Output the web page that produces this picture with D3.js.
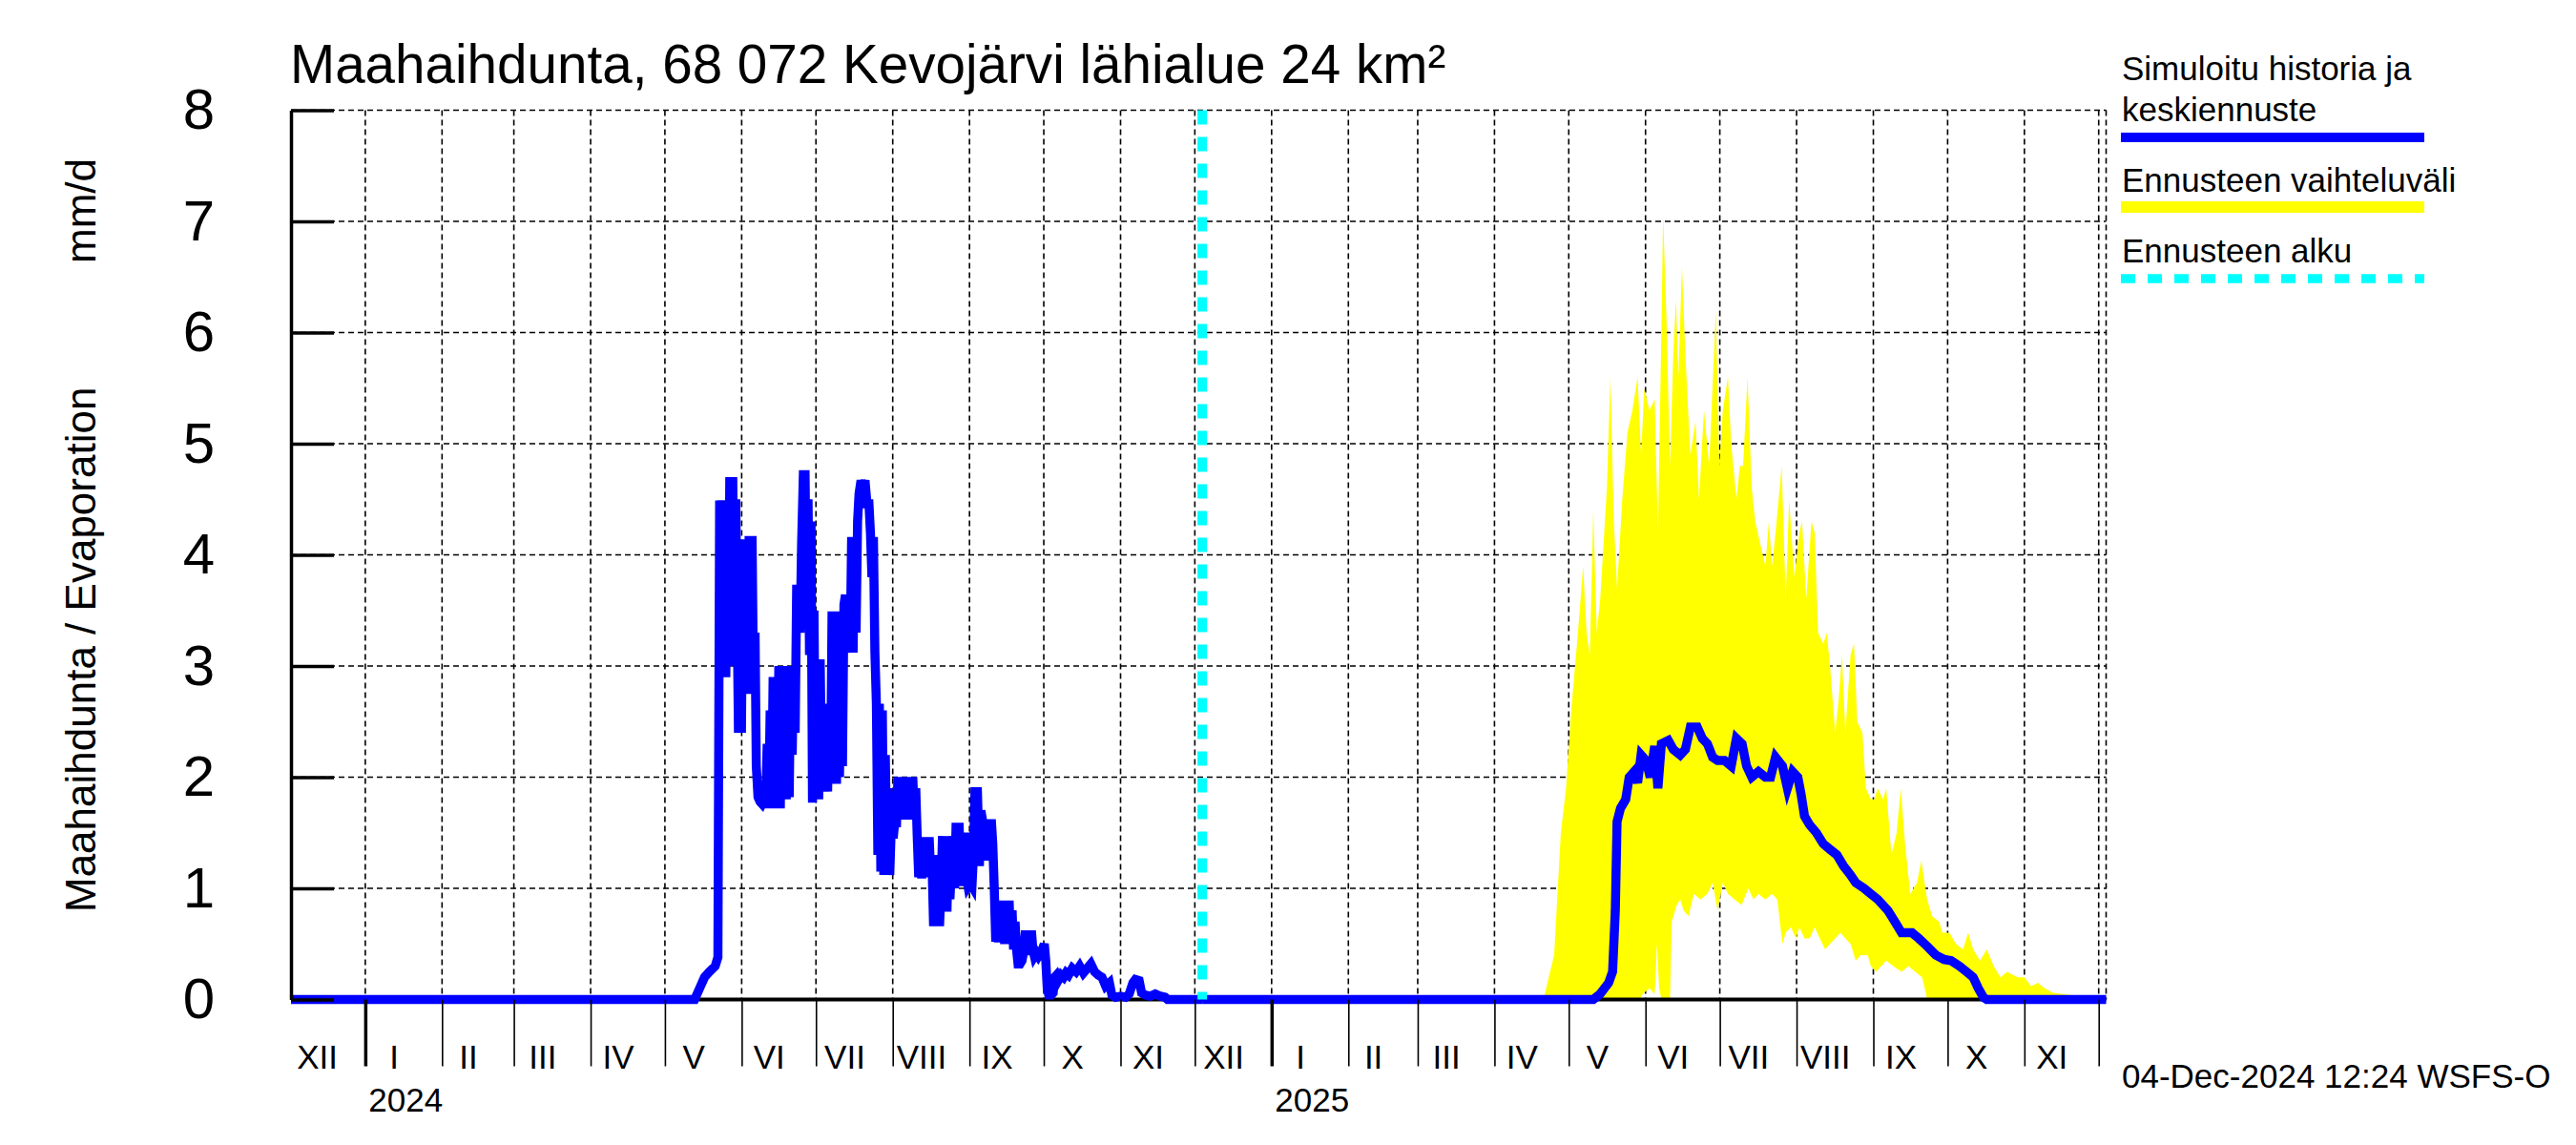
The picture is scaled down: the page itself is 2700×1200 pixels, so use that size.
<!DOCTYPE html>
<html><head><meta charset="utf-8">
<script src="https://cdn.jsdelivr.net/npm/d3@7"></script>
<style>
html,body{margin:0;padding:0;background:#fff;}
svg{display:block;}
text{font-family:"Liberation Sans",Arial,Helvetica,sans-serif;fill:#000;}
</style></head>
<body>
<svg id="chart" width="2700" height="1200"></svg>
<script>
// ---------------- DATA ----------------
const titleText = "Maahaihdunta, 68 072 Kevojärvi lähialue 24 km²";
const yLabelMain = "Maahaihdunta / Evaporation";
const yLabelUnit = "mm/d";
const yTicks = [0,1,2,3,4,5,6,7,8];
const monthLabels = ["I","II","III","IV","V","VI","VII","VIII","IX","X","XI","XII"];
const yearLabels = ["2024","2025"];
const legendLabels = ["Simuloitu historia ja","keskiennuste","Ennusteen vaihteluväli","Ennusteen alku"];
const stampText = "04-Dec-2024 12:24 WSFS-O";
const forecastStart = "2024-12-04";

// simulated history: [days since 2024-01-01, mm/d]
const simHistory2024 = [
[-30,0],[133,0],[135,0.1],[137,0.2],[139,0.25],[141.3,0.3],[142.4,0.38],
[143.1,4.49],[143.6,3.6],[144.1,4.49],[144.6,3.7],[145.1,4.07],[145.6,2.9],[146.1,4.07],[146.6,3.0],
[147.2,4.7],[147.8,3.0],[148.4,4.7],[149,3.1],[149.6,4.5],[150.2,3.4],[150.7,2.4],[151.3,4.14],[151.9,2.4],[152.5,4.14],
[153.2,2.8],[153.8,4.1],[154.3,2.75],[155,4.17],[155.6,2.8],[156.2,4.17],[156.8,2.75],[157.4,3.3],[157.9,2.1],
[158.6,1.82],[159.4,1.78],[160.2,1.76],[161,1.8],[161.7,1.76],
[162.3,2.3],[162.9,1.72],[163.5,2.6],[164.1,1.75],[164.7,2.9],[165.3,1.9],[165.8,2.9],[166.4,1.72],[167,3.0],[167.6,1.72],
[168.2,3.0],[168.8,1.85],[169.4,2.9],[170,1.8],[170.6,3.0],[171.2,1.82],[171.8,3.0],[172.4,2.2],[173,3.0],[173.6,2.4],
[174.2,3.69],[175,3.69],[175.6,3.3],[176.2,4.1],
[176.9,4.72],[177.6,4.72],[178.2,3.5],[178.8,4.5],[179.4,3.1],[180,4.3],[180.6,1.77],[181.2,3.5],[181.8,1.8],[182.5,3.06],
[183.1,1.8],[183.7,3.06],[184.3,2.0],[184.9,2.66],[185.5,1.87],[186.1,2.66],[186.7,1.87],[187.3,2.6],[187.9,2.0],
[188.5,3.49],[189.1,1.94],[189.7,3.49],[190.3,1.94],[190.9,3.49],[191.5,2.0],[192.1,3.4],[192.7,2.1],[193.3,3.55],
[193.9,3.64],[194.5,3.2],[195.2,3.64],[195.8,3.12],[196.4,4.16],[197,3.12],[197.6,4.16],[198.2,3.3],[198.8,4.3],
[199.4,4.55],[200.2,4.67],[201,4.6],[201.8,4.67],[202.6,4.46],[203.4,4.46],[204,4.2],[204.6,3.8],[205.2,4.16],[205.8,3.12],
[206.4,2.66],[207,1.3],[207.6,2.66],[208.2,1.15],[208.8,2.6],[209.4,1.12],[210,2.2],[210.6,1.3],[211.2,1.9],[211.8,1.12],
[212.5,1.62],[213.2,1.45],[213.9,1.62],[214.5,1.55],
[215.1,2.0],[215.7,1.62],[216.3,2.0],[216.9,1.62],[217.5,1.95],[218.1,1.62],[218.7,2.0],[219.3,1.7],[219.9,2.0],[220.5,1.62],
[221.1,2.0],[221.7,1.65],[222.3,1.9],[222.9,1.46],[223.5,1.1],[224.1,1.46],[224.7,1.09],[225.3,1.46],[225.9,1.1],[226.5,1.46],
[227.1,1.1],[227.7,1.46],[228.3,1.15],[228.9,1.2],[229.5,0.66],[230.1,1.1],[230.7,0.66],[231.3,1.3],[231.9,0.66],[232.5,1.0],
[233.1,1.47],[233.7,0.8],[234.3,1.47],[234.9,0.79],[235.5,1.4],[236.1,0.9],[236.7,1.2],[237.3,1.47],[238,1.0],[238.6,1.59],
[239.2,1.02],[239.8,1.59],[240.4,1.05],[241,1.4],[241.6,1.02],[242.2,1.5],[242.8,1.1],[243.4,1.02],[244.2,1.05],[245,1.02],
[245.6,1.3],[246.2,1.87],[247.2,1.87],[248,1.2],[248.6,1.7],[249.2,1.62],[249.8,1.25],[250.4,1.62],[251,1.25],[251.6,1.62],
[252.2,1.3],[252.8,1.62],[253.4,1.4],[254,1.0],[254.6,0.52],[255.2,0.6],[255.8,0.52],[256.4,0.7],[257,0.55],
[257.6,0.89],[258.2,0.5],[258.8,0.89],[259.4,0.55],[260,0.89],[260.6,0.5],[261.2,0.8],[261.8,0.45],[262.4,0.7],[263,0.45],
[263.6,0.32],[264.4,0.32],[265.2,0.35],[266,0.45],[266.6,0.62],[267.2,0.4],[267.8,0.62],[268.4,0.45],[269,0.62],[269.6,0.45],
[270.2,0.39],[271,0.42],[271.8,0.39],[272.6,0.42],[273.4,0.45],[274.2,0.5],[274.8,0.35],[275.4,0.1],[276,0.04],[277,0.04],
[277.8,0.06],[278.4,0.2],[279.2,0.22],[280,0.18],[281,0.22],[282,0.2],[283,0.24],[284,0.22],[285.5,0.28],[287,0.25],
[288.5,0.3],[290,0.24],[291.5,0.28],[293,0.32],[294.5,0.25],[296,0.22],[297.5,0.2],[299,0.12],[300.5,0.15],[301.5,0.04],
[303,0.02],[305,0.03],[307,0.02],[308.5,0.05],[310,0.15],[311,0.18],[312.5,0.17],[313.5,0.06],[315,0.04],[317,0.03],
[319,0.05],[321,0.03],[323,0.02],[324,0],[338,0]
];

// forecast median: [days since 2025-01-01, mm/d]
const forecastMedian2025 = [
[-28,0],[129.9,0],[132.7,0.05],[136.1,0.15],[137.7,0.25],[138.8,0.8],[139.5,1.6],[140.9,1.72],[143,1.8],[144.4,2.0],
[146.4,2.05],[147.8,1.95],[149.2,2.2],[151.2,2.15],[152.9,2.0],[154.7,2.28],[156,1.9],[157.4,2.3],[160.2,2.33],[162.2,2.25],
[165,2.2],[167.1,2.25],[169.1,2.45],[171.9,2.45],[173.9,2.35],[176,2.3],[178.1,2.18],[180.1,2.15],[182.9,2.15],[185.6,2.1],
[187.7,2.35],[190,2.3],[191.8,2.1],[193.9,2.0],[196.6,2.05],[199.4,2.0],[201.5,2.0],[203.5,2.18],[206.3,2.1],[208.3,1.9],
[210.4,2.05],[212.5,2.0],[213.8,1.85],[215.2,1.65],[217.3,1.57],[220,1.5],[222.8,1.4],[225.5,1.35],[228.3,1.3],[231,1.2],
[233.8,1.12],[235.9,1.05],[239.3,1.0],[242,0.95],[244.8,0.9],[248.9,0.8],[251.7,0.7],[254.4,0.6],[258.6,0.6],[261.3,0.55],
[264.7,0.48],[268.2,0.4],[271.6,0.36],[274.4,0.35],[277.8,0.3],[280.6,0.25],[283.3,0.2],[285.4,0.1],[287.4,0.02],[288.8,0],[337,0]
];

// forecast range upper edge: [days since 2025-01-01, mm/d]
const forecastUpper2025 = [
[110,0.02],[114.1,0.4],[116.8,1.5],[118.9,1.9],[121,2.6],[123.7,3.3],[125.8,3.9],[127.2,3.3],[128.5,3.1],[129.9,4.4],
[131.3,3.3],[132.7,3.6],[135.4,4.6],[136.8,5.6],[138.2,4.3],[139.5,3.7],[141.6,4.5],[143.7,5.1],[145.7,5.3],[147.8,5.6],
[149.2,4.9],[150.5,5.5],[152.6,5.3],[154.7,5.4],[156,4.2],[157.4,6.0],[158.1,7.05],[159.5,6.1],[160.9,4.8],[162.2,5.8],
[163.3,6.3],[164.3,5.6],[165.7,6.6],[167.1,5.8],[169.1,4.9],[171.2,5.2],[172.6,4.5],[174.6,5.3],[176.7,4.8],[179.4,6.2],
[180.8,4.8],[182.2,5.3],[184.3,5.6],[185.6,5.0],[187.7,4.5],[189.1,4.8],[190.4,4.8],[192.2,5.6],[193.9,4.6],[195.3,4.3],
[197.3,4.1],[199.4,3.9],[200.8,4.3],[202.1,3.9],[203.5,4.2],[206,4.8],[207.6,3.6],[209,4.5],[211.1,3.8],[213.1,4.2],
[214.2,4.3],[215.9,3.6],[218,4.3],[219.3,4.2],[220.7,3.3],[222.8,3.2],[224.2,3.3],[225.5,3.0],[227.6,2.4],[229,2.7],
[230.3,3.1],[231.7,2.4],[233.8,3.1],[235.2,3.2],[236.5,2.5],[238.6,2.4],[240,1.9],[242,1.8],[243.4,1.8],[244.8,1.9],
[246.9,1.8],[248.2,1.9],[250.3,1.3],[252.4,1.5],[254.1,1.9],[255.8,1.4],[257.9,0.95],[260.6,1.05],[262.4,1.25],[264.7,0.9],
[266.8,0.75],[269.6,0.7],[270.9,0.6],[273.7,0.6],[276.4,0.5],[279.2,0.45],[281.3,0.6],[283.3,0.45],[286.1,0.35],[288.8,0.45],
[291.6,0.3],[294.3,0.2],[297.1,0.25],[301.2,0.2],[304,0.2],[306.7,0.12],[309.5,0.15],[312.2,0.1],[315.6,0.06],[326.4,0.03],[328,0]
];

// forecast range lower edge: [days since 2025-01-01, mm/d]
const forecastLower2025 = [
[110,0],[148.5,0],[149.9,0.05],[152.6,0.1],[154.7,0.05],[155.6,0.5],[156.5,0.1],[157.4,0],[160.9,0],[161.6,0.7],
[163.6,0.85],[165,0.9],[166.4,0.8],[168.4,0.75],[170.5,0.95],[173.2,0.9],[176,0.95],[178.1,1.05],[180.1,0.8],[182.2,1.05],
[184.3,0.95],[187,0.9],[189.8,0.85],[192.5,1.0],[194.6,0.9],[196.6,0.95],[199.4,0.9],[202.1,0.95],[204.2,0.9],[206.3,0.5],
[207.6,0.6],[209.7,0.65],[211.8,0.55],[213.1,0.65],[215.2,0.55],[217.3,0.55],[219.3,0.65],[221.4,0.55],[223.5,0.45],[225.5,0.5],
[227.6,0.55],[229.7,0.6],[231.7,0.55],[233.8,0.5],[235.9,0.35],[237.9,0.4],[240.7,0.4],[242,0.3],[244.1,0.25],[246.2,0.3],
[248.2,0.35],[251,0.3],[254.4,0.25],[257.2,0.3],[259.9,0.25],[262.7,0.2],[264.3,0.05],[264.7,0],[328,0]
];

// ---------------- CHART ----------------
const svg = d3.select("#chart");
const L = 305, R = 2207.5, T = 115.5, B = 1047.5;
const x = d3.scaleUtc().domain([new Date(Date.UTC(2023,11,2)), new Date(Date.UTC(2025,11,4))]).range([L, R]);
const y = d3.scaleLinear().domain([0, 8]).range([B, T]);
const DAY = 864e5;
const d24 = d => new Date(Date.UTC(2024,0,1) + d*DAY);
const d25 = d => new Date(Date.UTC(2025,0,1) + d*DAY);

// grid
const monthStarts = d3.utcMonth.range(new Date(Date.UTC(2023,11,2)), new Date(Date.UTC(2025,11,4)));
const grid = svg.append("g").attr("stroke","#000").attr("stroke-width",1.6).attr("stroke-dasharray","6,4").attr("fill","none");
grid.selectAll("line.v").data(monthStarts.concat([x.domain()[1]])).join("line")
  .attr("x1", d => x(d)).attr("x2", d => x(d)).attr("y1", T).attr("y2", B);
grid.selectAll("line.h").data(yTicks.filter(v => v > 0)).join("line")
  .attr("x1", L).attr("x2", R).attr("y1", d => y(d)).attr("y2", d => y(d));

// forecast band
const line = d3.line().x(d => x(d[0])).y(d => y(d[1]));
const band = forecastUpper2025.map(p => [d25(p[0]), p[1]])
  .concat(forecastLower2025.slice().reverse().map(p => [d25(p[0]), p[1]]));
svg.append("path").datum(band)
  .attr("d", d => line(d) + "Z")
  .attr("fill", "#ffff00").attr("stroke", "none");

// zero baseline
svg.append("line").attr("x1", L).attr("x2", R).attr("y1", y(0)).attr("y2", y(0))
  .attr("stroke","#000").attr("stroke-width",4);

// blue lines
svg.append("path").datum(simHistory2024.map(p => [d24(p[0]), p[1]]))
  .attr("d", line).attr("fill","none").attr("stroke","#0000ff").attr("stroke-width",9.5);
svg.append("path").datum(forecastMedian2025.map(p => [d25(p[0]), p[1]]))
  .attr("d", line).attr("fill","none").attr("stroke","#0000ff").attr("stroke-width",9.5);

// forecast start
const fs = new Date(forecastStart + "T00:00:00Z");
svg.append("line").attr("x1", x(fs)).attr("x2", x(fs)).attr("y1", T).attr("y2", B)
  .attr("stroke","#00ffff").attr("stroke-width",10).attr("stroke-dasharray","15,13");

// y axis
const yAxis = d3.axisLeft(y).tickValues(yTicks).tickSizeInner(-45).tickSizeOuter(0).tickPadding(80).tickFormat(d3.format("d"));
const gy = svg.append("g").attr("transform", `translate(${L},0)`).call(yAxis);
gy.select(".domain").attr("stroke","#000").attr("stroke-width",3.5);
gy.selectAll(".tick line").attr("stroke","#000").attr("stroke-width",3.5);
gy.selectAll(".tick text").attr("font-size",60).attr("font-family",'"Liberation Sans",Arial,sans-serif').attr("fill","#000");

// x axis ticks
const xAxis = d3.axisBottom(x).tickValues(monthStarts).tickSizeInner(70).tickSizeOuter(0).tickFormat("");
const gx = svg.append("g").attr("transform", `translate(0,${B})`).call(xAxis);
gx.select(".domain").remove();
gx.selectAll(".tick line").attr("stroke","#000")
  .attr("stroke-width", d => d.getUTCMonth() === 0 ? 3.5 : 1.6);

// month labels
const labelMonths = d3.utcMonth.range(new Date(Date.UTC(2023,11,1)), new Date(Date.UTC(2025,11,1)));
svg.append("g").selectAll("text").data(labelMonths).join("text")
  .attr("x", d => (x(d) + x(d3.utcMonth.offset(d,1)))/2 - 10)
  .attr("y", 1120).attr("text-anchor","middle").attr("font-size",35)
  .text(d => monthLabels[d.getUTCMonth()]);

// year labels
svg.append("g").selectAll("text").data(yearLabels).join("text")
  .attr("x", d => x(new Date(Date.UTC(+d,0,1))) + 3.5).attr("y", 1165)
  .attr("font-size",35).text(d => d);

// title
svg.append("text").attr("x", 304).attr("y", 87).attr("font-size",56.6).text(titleText);

// y label
svg.append("text").attr("transform","translate(100,956) rotate(-90)")
  .attr("text-anchor","start").attr("font-size",44).text(yLabelMain);
svg.append("text").attr("transform","translate(100,166) rotate(-90)")
  .attr("text-anchor","end").attr("font-size",44).text(yLabelUnit);

// legend
const lg = svg.append("g");
lg.append("text").attr("x",2224).attr("y",84).attr("font-size",35).text(legendLabels[0]);
lg.append("text").attr("x",2224).attr("y",126.7).attr("font-size",35).text(legendLabels[1]);
lg.append("line").attr("x1",2223).attr("x2",2541).attr("y1",144).attr("y2",144).attr("stroke","#0000ff").attr("stroke-width",10);
lg.append("text").attr("x",2224).attr("y",200.7).attr("font-size",35).text(legendLabels[2]);
lg.append("line").attr("x1",2223).attr("x2",2541).attr("y1",217).attr("y2",217).attr("stroke","#ffff00").attr("stroke-width",12);
lg.append("text").attr("x",2224).attr("y",275).attr("font-size",35).text(legendLabels[3]);
lg.append("line").attr("x1",2223).attr("x2",2541).attr("y1",292).attr("y2",292).attr("stroke","#00ffff").attr("stroke-width",9.5).attr("stroke-dasharray","15,13");

// stamp
svg.append("text").attr("x",2224).attr("y",1140).attr("font-size",35).text(stampText);
</script>
</body></html>
